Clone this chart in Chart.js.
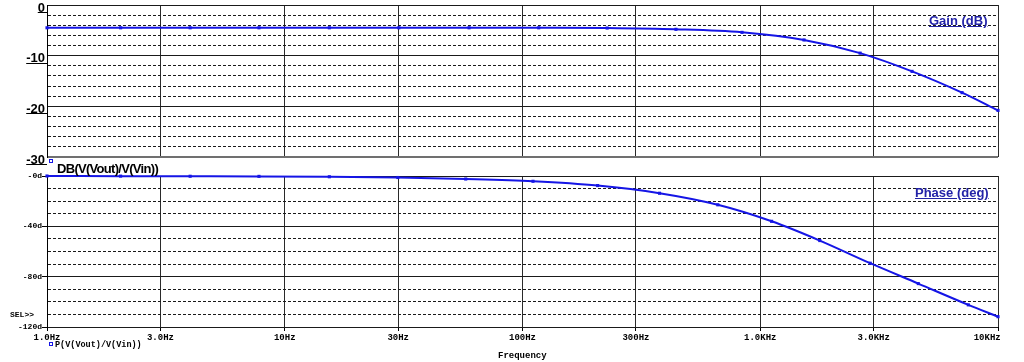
<!DOCTYPE html>
<html><head><meta charset="utf-8">
<script src="https://cdn.jsdelivr.net/npm/chart.js@4/dist/chart.umd.min.js"></script>
<style>
html,body{margin:0;padding:0;background:#fff;}
#wrap{position:relative;width:1024px;height:362px;overflow:hidden;background:#fff;}
canvas{position:absolute;left:0;top:0;}
.t{position:absolute;white-space:nowrap;line-height:1;}
.sq{position:absolute;width:2px;height:2px;border:1px solid #1515e6;}
.sans{font-family:"Liberation Sans",Arial,sans-serif;font-weight:bold;font-size:13px;}
.mono{font-family:"Liberation Mono","Courier New",monospace;font-weight:bold;}
</style></head><body>
<div id="wrap">
<canvas id="cA" width="1024" height="362"></canvas>
<canvas id="cB" width="1024" height="362"></canvas>
<div class="t sans" style="left:57px;top:162px;color:#000;letter-spacing:-0.7px;">DB(V(Vout)/V(Vin))</div>
<div class="sq" style="left:49px;top:159px;"></div>
<div class="t sans" style="left:929px;top:14px;color:#2323a8;text-decoration:underline;">Gain (dB)</div>
<div class="t sans" style="left:915px;top:186px;color:#2323a8;text-decoration:underline;">Phase (deg)</div>
<div class="t mono" style="left:10px;top:311px;font-size:8px;color:#000;">SEL&gt;&gt;</div>
<div class="sq" style="left:49px;top:342px;"></div>
<div class="t mono" style="left:55px;top:341px;font-size:8.5px;color:#000;">P(V(Vout)/V(Vin))</div>
<div class="t mono" style="left:498px;top:352px;font-size:9px;color:#000;">Frequency</div>
</div>
<script>
// ---- data ----
const xTickValues = [1, 3, 10, 30, 100, 300, 1000, 3000, 10000];
const xTickLabels = ['1.0Hz', '3.0Hz', '10Hz', '30Hz', '100Hz', '300Hz', '1.0KHz', '3.0KHz', '10KHz'];
const gainTickValues = [0, -10, -20, -30];
const gainTickLabels = ['0', '-10', '-20', '-30'];
const phaseTickValues = [0, -40, -80, -120];
const phaseTickLabels = ['-0d', '-40d', '-80d', '-120d'];

const gainFreq = [1, 2.04, 4.0, 7.79, 15.4, 30.2, 59.6, 117, 227, 442, 838, 1528, 2630, 4350, 7060, 10000];
const gainDb   = [-4.5, -4.5, -4.5, -4.5, -4.5, -4.5, -4.5, -4.5, -4.55, -4.8, -5.4, -6.9, -9.5, -13.1, -17.3, -20.8];

const phaseFreq = [1, 2.04, 4.0, 7.79, 15.4, 29.9, 57.7, 110.7, 207, 377, 663, 1116, 1780, 2900, 4620, 7500, 10000];
const phaseDeg  = [0, -0.1, -0.2, -0.3, -0.6, -1.2, -2.4, -4.2, -7.6, -13.7, -22.9, -36.0, -51.3, -69.3, -85.5, -102.4, -111.8];

// ---- styles ----
const BLUE = '#1515e6';
const MONO = '"Liberation Mono", "Courier New", monospace';
const SANS = '"Liberation Sans", Arial, sans-serif';

function pts(xs, ys) { return xs.map((x, i) => ({ x: x, y: ys[i] })); }

function xAxis(showLabels) {
  return {
    type: 'logarithmic', min: 1, max: 10000, position: 'bottom',
    afterBuildTicks: s => { s.ticks = xTickValues.map(v => ({ value: v })); },
    afterFit: s => { s.height = showLabels ? 35 : 0; s.paddingLeft = 0; s.paddingRight = 0; },
    grid: { color: '#2a2a2a', lineWidth: 1, drawTicks: showLabels, tickLength: 4, tickColor: '#000' },
    border: { display: false },
    ticks: {
      display: showLabels, autoSkip: false, maxRotation: 0, minRotation: 0, padding: 1,
      color: '#000', font: { family: MONO, weight: 'bold', size: 9 },
      callback: v => {
        const i = xTickValues.indexOf(v);
        if (i < 0) return '';
        return xTickLabels[i] + (i === xTickValues.length - 1 ? '\u00a0\u00a0\u00a0\u00a0' : '');
      }
    }
  };
}

function yAxis(min, step, majors, labels, bottomVal, fontOpt, tickLen, padding, labelOffset) {
  return {
    type: 'linear', min: min, max: 0, position: 'left',
    ticks: {
      stepSize: step, maxTicksLimit: 100, autoSkip: false,
      padding: padding, labelOffset: labelOffset, color: '#000', font: fontOpt,
      callback: v => { const i = majors.indexOf(v); return i >= 0 ? labels[i] : ''; }
    },
    afterFit: s => { s.width = 47; s.paddingTop = 0; s.paddingBottom = 0; },
    grid: {
      color: c => (c.tick && c.tick.value === bottomVal && bottomVal === -30) ? '#707070' : '#1a1a1a',
      lineWidth: c => (c.tick && c.tick.value === bottomVal && bottomVal === -30) ? 2 : 1,
      drawTicks: tickLen > 0, tickLength: tickLen,
      tickColor: c => (c.tick && majors.includes(c.tick.value)) ? '#000' : 'rgba(0,0,0,0)'
    },
    border: {
      display: true, color: '#000', width: 1,
      dash: c => (c.type === 'tick' && c.tick && !majors.includes(c.tick.value)) ? [3, 2] : []
    }
  };
}

const underlinePlugin = {
  id: 'underline',
  afterDraw(chart) {
    const s = chart.scales.y, ctx = chart.ctx;
    ctx.save();
    ctx.font = 'bold 13px ' + SANS;
    ctx.strokeStyle = '#000'; ctx.lineWidth = 1;
    s.ticks.forEach(t => {
      const lbl = s.options.ticks.callback(t.value);
      if (!lbl) return;
      const w = ctx.measureText(lbl).width;
      const y = Math.round(s.getPixelForValue(t.value) + 7) + 0.5;
      ctx.beginPath(); ctx.moveTo(s.right - 2 - w, y); ctx.lineTo(s.right, y); ctx.stroke();
    });
    ctx.restore();
  }
};

const dsStyle = {
  borderColor: BLUE, backgroundColor: BLUE, borderWidth: 2,
  pointStyle: 'rect', pointRadius: 2.2, pointBorderWidth: 0, pointBackgroundColor: BLUE,
  cubicInterpolationMode: 'monotone', clip: 4
};

new Chart(document.getElementById('cA'), {
  type: 'line',
  data: { datasets: [Object.assign({ label: 'DB(V(Vout)/V(Vin))', data: pts(gainFreq, gainDb) }, dsStyle)] },
  options: {
    responsive: false, animation: false, devicePixelRatio: 1,
    layout: { padding: { top: 5, left: 0, right: 26, bottom: 205 } },
    plugins: { legend: { display: false }, tooltip: { enabled: false } },
    scales: {
      x: xAxis(false),
      y: yAxis(-30, 2, gainTickValues, gainTickLabels, -30, { family: SANS, weight: 'bold', size: 13 }, 0, 2, 3)
    }
  },
  plugins: [underlinePlugin]
});

new Chart(document.getElementById('cB'), {
  type: 'line',
  data: { datasets: [Object.assign({ label: 'P(V(Vout)/V(Vin))', data: pts(phaseFreq, phaseDeg) }, dsStyle)] },
  options: {
    responsive: false, animation: false, devicePixelRatio: 1,
    layout: { padding: { top: 176, left: 0, right: 26, bottom: 0 } },
    plugins: { legend: { display: false }, tooltip: { enabled: false } },
    scales: {
      x: xAxis(true),
      y: yAxis(-120, 10, phaseTickValues, phaseTickLabels, -120, { family: MONO, weight: 'bold', size: 8 }, 5, 0, 0)
    }
  }
});
</script>
</body></html>
